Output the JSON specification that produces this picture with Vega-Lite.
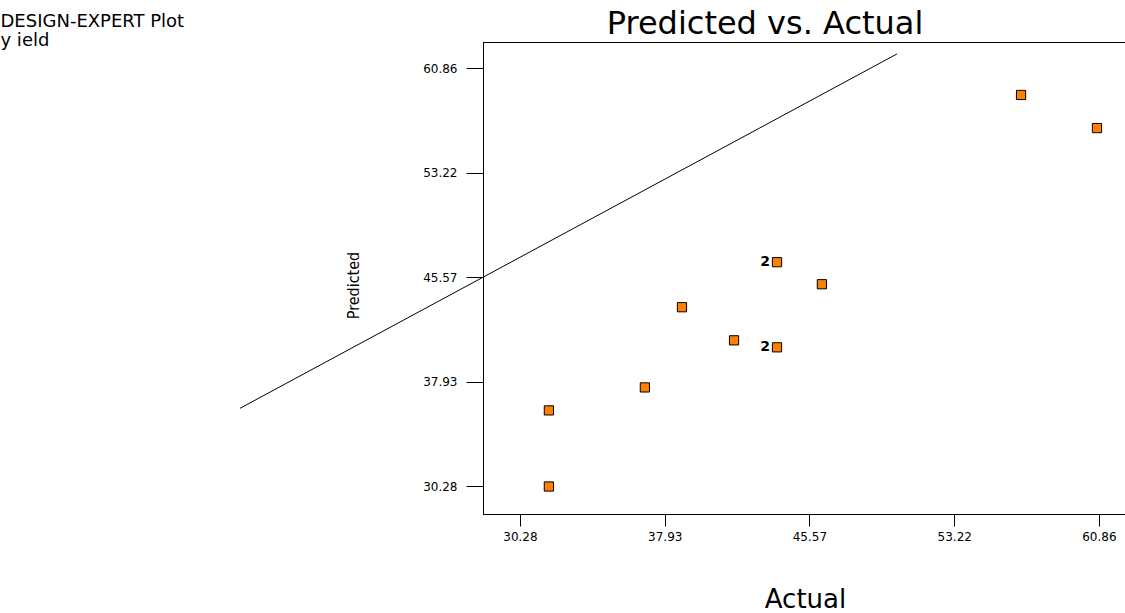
{
  "$schema": "https://vega.github.io/schema/vega-lite/v6.json",
  "autosize": "none",
  "padding": {"left": 483, "top": 42, "right": 0, "bottom": 98},
  "width": 642,
  "height": 472,
  "background": "white",
  "title": {
    "text": "Predicted vs. Actual",
    "anchor": "middle",
    "frame": "group",
    "dx": -39,
    "dy": 33,
    "font": "DejaVu Sans",
    "fontSize": 32,
    "fontWeight": "normal",
    "color": "black"
  },
  "config": {
    "view": {"stroke": "black", "strokeWidth": 1},
    "axis": {
      "grid": false,
      "domainColor": "black",
      "tickColor": "black",
      "labelColor": "black",
      "titleColor": "black",
      "labelFont": "DejaVu Sans",
      "labelFontSize": 12,
      "titleFont": "DejaVu Sans",
      "titleFontWeight": "normal"
    }
  },
  "resolve": {"axis": {"x": "independent"}},
  "layer": [
    {
      "data": {
        "values": [
          {"x1": 15.49, "y1": 35.99, "x2": 50.2, "y2": 61.89}
        ]
      },
      "mark": {"type": "rule", "color": "black", "strokeWidth": 1, "clip": false},
      "encoding": {
        "x": {
          "field": "x1",
          "type": "quantitative",
          "scale": {"domain": [28.33, 62.24], "nice": false, "zero": false},
          "axis": {
            "orient": "top",
            "labels": false,
            "ticks": false,
            "domain": true,
            "title": ["DESIGN-EXPERT Plot", "y ield"],
            "titleX": -483,
            "titleY": -16,
            "titleAlign": "left",
            "titleAngle": 0,
            "titleBaseline": "alphabetic",
            "titleFontSize": 18,
            "titleLineHeight": 19
          }
        },
        "x2": {"field": "x2"},
        "y": {
          "field": "y1",
          "type": "quantitative",
          "scale": {"domain": [28.27, 62.76], "nice": false, "zero": false},
          "axis": {
            "values": [30.28, 37.93, 45.57, 53.22, 60.86],
            "format": ".2f",
            "tickSize": 17,
            "labelPadding": 9,
            "title": "Predicted",
            "titleFont": "DejaVu Sans Condensed, Liberation Sans",
            "titleFontSize": 16,
            "titleAngle": -90,
            "titleAlign": "center",
            "titleBaseline": "alphabetic",
            "titleX": -125,
            "titleY": 243
          }
        },
        "y2": {"field": "y2"}
      }
    },
    {
      "data": {
        "values": [
          {"actual": 31.81, "predicted": 30.28, "label": ""},
          {"actual": 31.81, "predicted": 35.84, "label": ""},
          {"actual": 36.88, "predicted": 37.52, "label": ""},
          {"actual": 38.84, "predicted": 43.38, "label": ""},
          {"actual": 41.59, "predicted": 40.96, "label": ""},
          {"actual": 43.86, "predicted": 40.45, "label": "2"},
          {"actual": 43.86, "predicted": 46.67, "label": "2"},
          {"actual": 46.23, "predicted": 45.06, "label": ""},
          {"actual": 56.75, "predicted": 58.89, "label": ""},
          {"actual": 60.76, "predicted": 56.47, "label": ""}
        ]
      },
      "encoding": {
        "x": {
          "field": "actual",
          "type": "quantitative",
          "scale": {"domain": [28.33, 62.24], "nice": false, "zero": false},
          "axis": {
            "orient": "bottom",
            "values": [30.28, 37.93, 45.57, 53.22, 60.86],
            "format": ".2f",
            "tickSize": 12,
            "labelPadding": 5,
            "title": "Actual",
            "titleFontSize": 26,
            "titleX": 322,
            "titleY": 93,
            "titleAlign": "center",
            "titleBaseline": "alphabetic"
          }
        },
        "y": {
          "field": "predicted",
          "type": "quantitative",
          "scale": {"domain": [28.27, 62.76], "nice": false, "zero": false},
          "axis": {
            "values": [30.28, 37.93, 45.57, 53.22, 60.86],
            "format": ".2f",
            "tickSize": 17,
            "labelPadding": 9,
            "title": "Predicted",
            "titleFont": "DejaVu Sans Condensed, Liberation Sans",
            "titleFontSize": 16,
            "titleAngle": -90,
            "titleAlign": "center",
            "titleBaseline": "alphabetic",
            "titleX": -125,
            "titleY": 243
          }
        }
      },
      "layer": [
        {
          "mark": {"type": "point", "shape": "square", "filled": true, "fill": "#FF8000", "stroke": "black", "strokeWidth": 1, "size": 85, "opacity": 1}
        },
        {
          "mark": {"type": "text", "align": "right", "baseline": "middle", "dx": -7, "font": "DejaVu Sans", "fontSize": 14, "fontWeight": "bold", "color": "black"},
          "encoding": {"text": {"field": "label"}}
        }
      ]
    }
  ]
}
